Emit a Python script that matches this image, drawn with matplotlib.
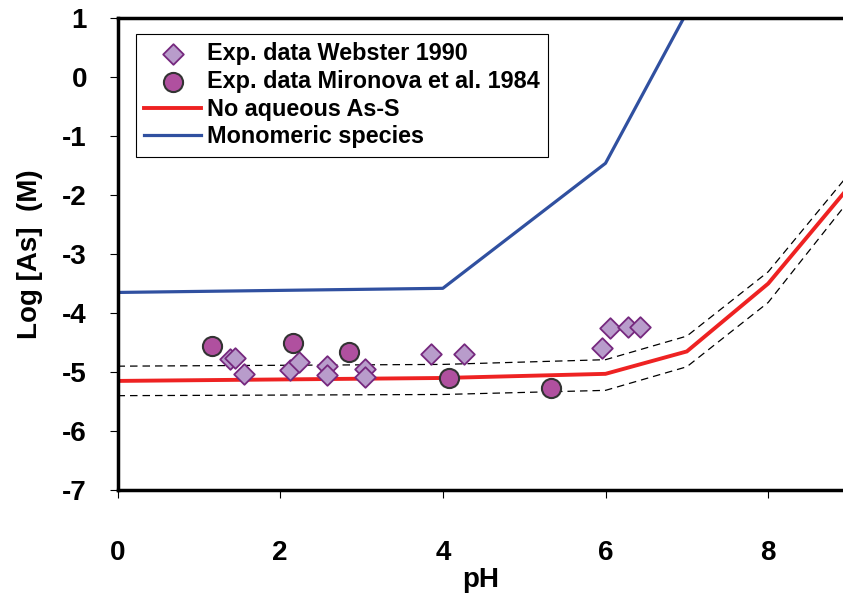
import numpy as np
import matplotlib
matplotlib.use("Agg")
import matplotlib.pyplot as plt

# model curves (pH vs log[As])
ph_model = [0, 4, 6, 7, 8, 9]
no_as_s = [-5.15, -5.10, -5.03, -4.65, -3.50, -1.85]
no_as_s_hi = [-4.90, -4.87, -4.79, -4.39, -3.30, -1.63]
no_as_s_lo = [-5.40, -5.38, -5.31, -4.91, -3.82, -2.08]

ph_mono = [0, 4, 6, 7]
monomeric = [-3.65, -3.58, -1.46, 1.10]

# experimental data
ph_webster = [1.38, 1.44, 1.56, 2.12, 2.23, 2.57, 2.57, 3.04, 3.04, 3.85, 4.26, 5.96, 6.06, 6.28, 6.43]
as_webster = [-4.78, -4.76, -5.04, -4.97, -4.83, -4.89, -5.05, -4.95, -5.08, -4.70, -4.70, -4.60, -4.26, -4.23, -4.23]
ph_mironova = [1.16, 2.16, 2.85, 4.08, 5.33]
as_mironova = [-4.55, -4.51, -4.66, -5.10, -5.27]

plt.rcParams['font.family'] = ['Liberation Sans', 'DejaVu Sans']
plt.rcParams['font.weight'] = 'bold'
plt.rcParams['axes.unicode_minus'] = False

fig = plt.figure(figsize=(8.43, 6.05), dpi=100)
ax = fig.add_axes([0.1394, 0.19, 0.8606, 0.78])

ax.plot(ph_model, no_as_s_hi, color='black', lw=0.9, dashes=[6, 4])
ax.plot(ph_model, no_as_s_lo, color='black', lw=0.9, dashes=[6, 4])
l_red, = ax.plot(ph_model, no_as_s, color='#ee2222', lw=2.8, solid_joinstyle='miter')
l_blue, = ax.plot(ph_mono, monomeric, color='#3050a0', lw=2.3)

m_web = ax.scatter(ph_webster, as_webster, marker='D', s=110, facecolor='#b89ccb',
                   edgecolor='#76287e', linewidth=1.3, zorder=4)
m_mir = ax.scatter(ph_mironova, as_mironova, marker='o', s=190, facecolor='#b0509f',
                   edgecolor='#333333', linewidth=1.5, zorder=5)

ax.set_xlim(0, 8.92)
ax.set_ylim(-7, 1)
ax.set_xticks([0, 2, 4, 6, 8])
ax.set_yticks(range(-7, 2))
ax.tick_params(axis='both', labelsize=20, direction='out', length=6, width=0.8)
ax.tick_params(axis='x', pad=30)
ax.tick_params(axis='y', pad=16)
for lab in ax.get_xticklabels() + ax.get_yticklabels():
    lab.set_fontweight('bold')

for s in ['left', 'bottom', 'top']:
    ax.spines[s].set_linewidth(2.5)
ax.spines['right'].set_visible(False)

ax.set_xlabel('pH', fontsize=20, fontweight='bold', labelpad=1)
ax.set_ylabel('Log [As]  (M)', fontsize=20, fontweight='bold', labelpad=14)

leg = ax.legend([m_web, m_mir, l_red, l_blue],
                ['Exp. data Webster 1990', 'Exp. data Mironova et al. 1984',
                 'No aqueous As-S', 'Monomeric species'],
                loc='upper left', bbox_to_anchor=(0.0255, 0.966), borderaxespad=0,
                prop={'weight': 'bold', 'size': 16.8}, fancybox=False, framealpha=1,
                edgecolor='black', handlelength=2.45, handletextpad=0.25,
                labelspacing=0.2, borderpad=0.35, scatterpoints=1)
leg.get_frame().set_linewidth(0.8)

plt.savefig('out.png', dpi=100)
